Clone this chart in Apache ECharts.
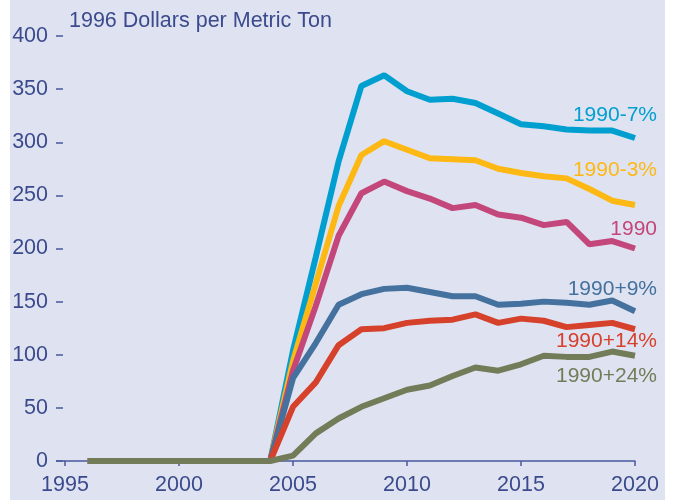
<!DOCTYPE html>
<html>
<head>
<meta charset="utf-8">
<script src="https://cdn.jsdelivr.net/npm/echarts@6/dist/echarts.min.js"></script>
<style>
  html, body { margin: 0; padding: 0; background: #fff; }
  #chart { width: 674px; height: 500px; }
</style>
</head>
<body>
<div id="chart"></div>
<script>
const years = [1996, 1997, 1998, 1999, 2000, 2001, 2002, 2003, 2004, 2005, 2006, 2007, 2008,
  2009, 2010, 2011, 2012, 2013, 2014, 2015, 2016, 2017, 2018, 2019, 2020]

const seriesNames = ['1990-7%', '1990-3%', '1990', '1990+9%', '1990+14%', '1990+24%']

const minus7 = [0, 0, 0, 0, 0, 0, 0, 0, 0, 104, 192, 282, 353, 363, 348, 340, 341, 337, 327, 317, 315, 312, 311, 311, 304]
const minus3 = [0, 0, 0, 0, 0, 0, 0, 0, 0, 94, 167, 240, 288, 301, 293, 285, 284, 283, 275, 271, 268, 266, 256, 245, 241]
const base1990 = [0, 0, 0, 0, 0, 0, 0, 0, 0, 85, 146, 212, 252, 263, 254, 247, 238, 241, 232, 229, 222, 225, 204, 207, 200]
const plus9 = [0, 0, 0, 0, 0, 0, 0, 0, 0, 78, 111, 147, 157, 162, 163, 159, 155, 155, 147, 148, 150, 149, 147, 151, 141]
const plus14 = [0, 0, 0, 0, 0, 0, 0, 0, 0, 51, 74, 109, 124, 125, 130, 132, 133, 138, 130, 134, 132, 126, 128, 130, 124]
const plus24 = [0, 0, 0, 0, 0, 0, 0, 0, 0, 5, 26, 40, 51, 59, 67, 71, 80, 88, 85, 91, 99, 98, 98, 103, 99]

const allValues = [minus7, minus3, base1990, plus9, plus14, plus24]

const colors = ['#009fd0', '#fdb814', '#c3477b', '#44719d', '#d6412c', '#737c58']
// where each end label sits relative to the last point
const labelOffsets = [[22, -23], [22, -35], [22, -19], [22, -22], [22, 12], [22, 20]]

const textColor = '#3a4a8c'
const font = 'Liberation Sans, Arial, sans-serif'

let chart = echarts.init(document.getElementById('chart'))

let series = seriesNames.map((name, i) => {
  return {
    name: name,
    type: 'line',
    data: years.map((y, k) => [y, allValues[i][k]]),
    symbol: 'none',
    z: 2 + i,
    lineStyle: { color: colors[i], width: 6 },
    itemStyle: { color: colors[i] },
    endLabel: {
      show: true,
      formatter: '{a}',
      align: 'right',
      verticalAlign: 'middle',
      distance: 0,
      offset: labelOffsets[i],
      color: colors[i],
      fontSize: 21,
      fontFamily: font
    }
  }
})

let options = {
  animation: false,
  backgroundColor: '#ffffff',
  title: {
    text: '1996 Dollars per Metric Ton',
    left: 64,
    top: 5,
    textStyle: { color: textColor, fontSize: 21.5, fontWeight: 'normal', fontFamily: font }
  },
  grid: { left: 65, right: 39, top: 36, bottom: 39 },
  xAxis: {
    type: 'value',
    min: 1995,
    max: 2020,
    interval: 5,
    splitLine: { show: false },
    axisLine: { show: true, lineStyle: { color: '#4a5a9e', width: 1.5 } },
    axisTick: { show: true, length: 5, lineStyle: { color: '#4a5a9e', width: 1.5 } },
    axisLabel: {
      color: textColor,
      fontSize: 21.5,
      fontFamily: font,
      margin: 13,
      formatter: (v) => String(v)
    }
  },
  yAxis: {
    type: 'value',
    min: 0,
    max: 400,
    interval: 50,
    offset: 2,
    splitLine: { show: false },
    axisLine: { show: false },
    axisTick: { show: true, length: 7, lineStyle: { color: '#4a5a9e', width: 1.5 } },
    axisLabel: { color: textColor, fontSize: 21.5, fontFamily: font, margin: 15 }
  },
  series: series
}

chart.setOption(options)

// panel background and the short stub of the x axis line left of 1995
let origin = chart.convertToPixel({ gridIndex: 0 }, [1995, 0])
chart.setOption({
  graphic: [
    {
      type: 'rect',
      z: -10,
      silent: true,
      shape: { x: 10, y: 0, width: 655, height: 500 },
      style: { fill: '#dfe3f1' }
    },
    {
      type: 'line',
      z: 1,
      silent: true,
      shape: { x1: origin[0] - 9, y1: origin[1], x2: origin[0], y2: origin[1] },
      style: { stroke: '#4a5a9e', lineWidth: 1.5 }
    }
  ]
})
</script>
</body>
</html>
